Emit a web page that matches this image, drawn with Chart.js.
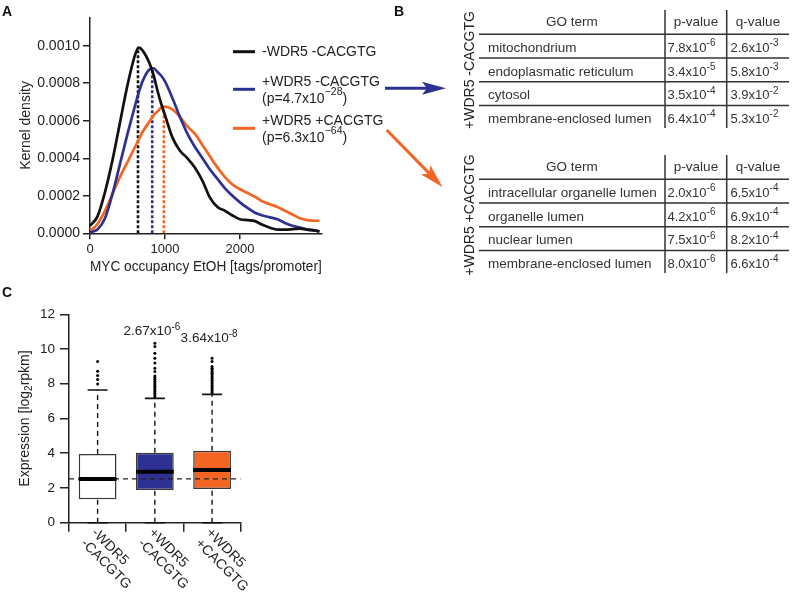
<!DOCTYPE html>
<html>
<head>
<meta charset="utf-8">
<script src="https://cdn.jsdelivr.net/npm/chart.js@4.4.0/dist/chart.umd.min.js"></script>
<style>
  html, body { margin: 0; padding: 0; background: #fff; }
  #page { position: relative; width: 793px; height: 595px; overflow: hidden; }
  #densityChart { position: absolute; left: 0; top: 0; }
  #exprChart { position: absolute; left: 0; top: 280px; }
  #overlay { position: absolute; left: 0; top: 0; pointer-events: none; }
</style>
</head>
<body>
<div id="page">
  <canvas id="densityChart" width="400" height="290"></canvas>
  <canvas id="exprChart" width="400" height="315"></canvas>
  <svg id="overlay" width="793" height="595"></svg>
</div>
<script>
const FONT = "'Liberation Sans', Arial, sans-serif";
Chart.defaults.font.family = FONT;
Chart.defaults.color = '#222';
Chart.defaults.animation = false;

// ---- panel A: kernel density of MYC occupancy
const occupancy = [0, 100, 200, 300, 400, 500, 600, 650, 700, 800, 850, 900, 950, 1000,
  1100, 1200, 1300, 1400, 1500, 1600, 1700, 1800, 1900, 2000,
  2100, 2200, 2300, 2400, 2500, 2600, 2700, 2800, 2900, 3000, 3060];
const densityNoWdr5 = [0.00004, 0.00009, 0.00022, 0.00039, 0.00059, 0.00079, 0.00095, 0.00099, 0.000975, 0.00090, 0.00084, 0.00076, 0.00069, 0.00063,
  0.00051, 0.00044, 0.00040, 0.00035, 0.00028, 0.00019, 0.00014, 0.00012, 0.000095, 0.000075,
  0.00007, 0.000065, 0.000045, 0.00003, 0.00002, 0.00002, 0.000022, 0.000025, 0.00002, 0.000015, 0.00001];
const densityWdr5NoEbox = [0.000005, 0.00002, 0.00008, 0.00021, 0.00037, 0.00053, 0.00068, 0.00075, 0.00081, 0.000875, 0.00088, 0.00086, 0.00084, 0.00081,
  0.00072, 0.00062, 0.00053, 0.00046, 0.00040, 0.00034, 0.00029, 0.00024, 0.00020, 0.000165,
  0.000135, 0.00011, 0.000095, 0.000085, 0.000075, 0.000055, 0.00004, 0.00003, 0.00002, 0.000015, 0.00001];
const densityWdr5Ebox = [0.00001, 0.00005, 0.00012, 0.00021, 0.00030, 0.00038, 0.00046, 0.00050, 0.00054, 0.00060, 0.00063, 0.00065, 0.00067, 0.000675,
  0.00066, 0.00062, 0.00057, 0.00053, 0.00047, 0.00041, 0.00035, 0.00030, 0.00026, 0.000235,
  0.000215, 0.000195, 0.00017, 0.000155, 0.00014, 0.00012, 0.0001, 0.00008, 0.00007, 0.000067, 0.000067];
const modeX = [640, 830, 985];
const modeY = [0.00099, 0.000875, 0.00067];
const occupancyTicks = [0, 1000, 2000];
const densityTicks = [0, 0.0002, 0.0004, 0.0006, 0.0008, 0.0010];
const seriesNames = ['-WDR5 -CACGTG', '+WDR5 -CACGTG', '+WDR5 +CACGTG'];
const seriesPValue = [null, ['4.7x10', '\u221228'], ['6.3x10', '\u221264']];
const seriesColors = ['#111111', '#2e3192', '#f26522'];

// ---- panel B: GO terms
const goTermsNoEbox = ['mitochondrium', 'endoplasmatic reticulum', 'cytosol', 'membrane-enclosed lumen'];
const pMantNoEbox = [7.8, 3.4, 3.5, 6.4];
const pExpNoEbox = [-6, -5, -4, -4];
const qMantNoEbox = [2.6, 5.8, 3.9, 5.3];
const qExpNoEbox = [-3, -3, -2, -2];
const goTermsEbox = ['intracellular organelle lumen', 'organelle lumen', 'nuclear lumen', 'membrane-enclosed lumen'];
const pMantEbox = [2.0, 4.2, 7.5, 8.0];
const pExpEbox = [-6, -6, -6, -6];
const qMantEbox = [6.5, 6.9, 8.2, 6.6];
const qExpEbox = [-4, -4, -4, -4];

// ---- panel C: expression box plots
const groups = [['-WDR5', '-CACGTG'], ['+WDR5', '-CACGTG'], ['+WDR5', '+CACGTG']];
const q1 = [1.35, 1.88, 1.94];
const q3 = [3.95, 4.03, 4.15];
const medians = [2.52, 2.94, 3.03];
const whiskerLow = [0, 0, 0];
const whiskerHigh = [7.64, 7.16, 7.39];
const outliers = [
  [7.99, 8.24, 8.47, 8.72, 9.28],
  [7.25, 7.35, 7.45, 7.55, 7.65, 7.75, 7.85, 7.95, 8.05, 8.15, 8.25, 8.35, 8.45, 8.7, 8.9, 9.19, 9.47, 9.76, 10.15, 10.34],
  [7.5, 7.6, 7.7, 7.8, 7.9, 8.0, 8.1, 8.2, 8.3, 8.4, 8.5, 8.6, 8.7, 8.8, 8.9, 8.99, 9.28, 9.47]
];
const pBase = ['', '2.67x10', '3.64x10'];
const pExp = ['', '-6', '-8'];
const boxColors = ['#ffffff', '#2e3192', '#f26522'];
const expressionTicks = [0, 2, 4, 6, 8, 10, 12];

// text with super/subscripts on a canvas; parts = [text, shift] with shift 1 sup, -1 sub
function drawParts(ctx, parts, x, y, size, small, raise, align) {
  let total = 0;
  parts.forEach(([t, s]) => { ctx.font = (s ? small : size) + 'px ' + FONT; total += ctx.measureText(t).width; });
  let cx = align === 'center' ? x - total / 2 : x;
  ctx.textAlign = 'left';
  parts.forEach(([t, s]) => {
    ctx.font = (s ? small : size) + 'px ' + FONT;
    ctx.fillText(t, cx, y - s * raise);
    cx += ctx.measureText(t).width;
  });
}

const densityLegend = {
  id: 'densityLegend',
  afterDraw(chart) {
    const ctx = chart.ctx;
    const lineY = [51.7, 89.3, 128.3];
    ctx.save();
    ctx.textBaseline = 'middle';
    seriesNames.forEach((name, i) => {
      ctx.strokeStyle = seriesColors[i];
      ctx.lineWidth = 3;
      ctx.beginPath();
      ctx.moveTo(233, lineY[i]);
      ctx.lineTo(255, lineY[i]);
      ctx.stroke();
      ctx.fillStyle = '#222';
      const p = seriesPValue[i];
      drawParts(ctx, [[name, 0]], 262, p ? lineY[i] - 7.5 : lineY[i], 14, 10, 0, 'left');
      if (p) drawParts(ctx, [['(p=' + p[0], 0], [p[1], 1], [')', 0]], 262, lineY[i] + 10, 14, 10.5, 7, 'left');
    });
    ctx.restore();
  }
};

new Chart(document.getElementById('densityChart'), {
  type: 'line',
  data: {
    datasets: [
      ...[densityNoWdr5, densityWdr5NoEbox, densityWdr5Ebox].map((ys, i) => ({
        label: seriesNames[i],
        data: occupancy.map((x, j) => ({ x: x, y: ys[j] })),
        borderColor: seriesColors[i],
        borderWidth: 2.7,
        pointRadius: 0,
        cubicInterpolationMode: 'monotone',
        fill: false
      })),
      ...modeX.map((x, i) => ({
        data: [{ x: x, y: 0 }, { x: x, y: modeY[i] }],
        borderColor: seriesColors[i],
        borderWidth: 2.6,
        borderDash: [3, 2],
        pointRadius: 0
      }))
    ]
  },
  options: {
    responsive: false,
    layout: { padding: { left: 0, top: 17.6, right: 78.3, bottom: 0 } },
    plugins: { legend: { display: false }, tooltip: { enabled: false } },
    scales: {
      x: {
        type: 'linear', min: 0, max: 3090,
        afterBuildTicks: s => { s.ticks = occupancyTicks.map(v => ({ value: v })); },
        afterFit: s => { s.height = 290 - 233.3; },
        grid: { drawOnChartArea: false, tickLength: 6, color: '#222', lineWidth: 1.5 },
        border: { color: '#222', width: 1.5 },
        ticks: { font: { size: 13 }, padding: 2, maxRotation: 0, callback: v => String(v) },
        title: { display: true, text: 'MYC occupancy EtOH [tags/promoter]', font: { size: 14 }, padding: { top: 0, bottom: 14 } }
      },
      y: {
        min: 0, max: 0.00115,
        afterBuildTicks: s => { s.ticks = densityTicks.map(v => ({ value: v })); },
        afterFit: s => { s.width = 90; },
        grid: { drawOnChartArea: false, tickLength: 7, color: '#222', lineWidth: 1.5 },
        border: { color: '#222', width: 1.5 },
        ticks: { font: { size: 14 }, padding: 3, callback: v => v.toFixed(4) },
        title: { display: true, text: 'Kernel density', font: { size: 14 }, padding: { top: 18, bottom: 0 } }
      }
    }
  },
  plugins: [densityLegend]
});

// line pieces separated by gaps
function segments(list) {
  const out = [];
  list.forEach(([a, b]) => {
    out.push({ x: a[0], y: a[1] }, { x: b[0], y: b[1] }, { x: b[0], y: null });
  });
  return out;
}

const boxHalf = 0.33;
const capHalf = 0.175;
const lastEdge = groups.length - 0.5;

const exprDecor = {
  id: 'exprDecor',
  afterDraw(chart) {
    const { ctx, chartArea } = chart;
    const x = chart.scales.x, y = chart.scales.y;
    ctx.save();
    ctx.fillStyle = '#222';
    ctx.textBaseline = 'top';
    groups.forEach((lines, i) => {
      const px = x.getPixelForValue(i);
      ctx.save();
      ctx.translate(px + 1, chartArea.bottom + 3);
      ctx.rotate(Math.PI / 4);
      ctx.font = '14px ' + FONT;
      ctx.textAlign = 'left';
      lines.forEach((t, k) => ctx.fillText(t, 0, k * 15));
      ctx.restore();
    });
    ctx.textBaseline = 'alphabetic';
    const pLevel = [0, 10.8, 10.42];
    pBase.forEach((b, i) => {
      if (!b) return;
      drawParts(ctx, [[b, 0], [pExp[i], 1]], x.getPixelForValue(i) - 3, y.getPixelForValue(pLevel[i]), 13.5, 10, 5, 'center');
    });
    ctx.save();
    ctx.translate(25, (chartArea.top + chartArea.bottom) / 2);
    ctx.rotate(-Math.PI / 2);
    ctx.textBaseline = 'middle';
    drawParts(ctx, [['Expression [log', 0], ['2', -1], ['rpkm]', 0]], 0, 0, 14, 10, 4, 'center');
    ctx.restore();
    ctx.restore();
  }
};

new Chart(document.getElementById('exprChart'), {
  type: 'bar',
  data: {
    datasets: [
      {
        type: 'line',
        data: segments(medians.map((m, i) => [[i - boxHalf, m], [i + boxHalf, m]])),
        borderColor: '#000', borderWidth: 4, pointRadius: 0, spanGaps: false
      },
      {
        type: 'line',
        data: [{ x: -0.5, y: medians[0] }, { x: lastEdge, y: medians[0] }],
        borderColor: '#222', borderWidth: 1.2, borderDash: [5, 4], pointRadius: 0
      },
      {
        type: 'line',
        data: segments([
          ...whiskerHigh.map((w, i) => [[i - capHalf, w], [i + capHalf, w]]),
          ...whiskerLow.map((w, i) => [[i - capHalf, w], [i + capHalf, w]])
        ]),
        borderColor: '#111', borderWidth: 1.6, pointRadius: 0, spanGaps: false, clip: 4
      },
      {
        type: 'line',
        data: segments([
          ...whiskerHigh.map((w, i) => [[i, q3[i]], [i, w]]),
          ...whiskerLow.map((w, i) => [[i, w], [i, q1[i]]])
        ]),
        borderColor: '#111', borderWidth: 1.4, borderDash: [5, 4], pointRadius: 0, spanGaps: false
      },
      {
        type: 'scatter',
        data: outliers.flatMap((o, i) => o.map(v => ({ x: i, y: v }))),
        pointRadius: 1.5, backgroundColor: '#000', borderWidth: 0
      },
      {
        type: 'bar',
        data: q1.map((v, i) => ({ x: i, y: [v, q3[i]] })),
        backgroundColor: boxColors, borderColor: '#3a3a3a', borderWidth: 1.5,
        borderSkipped: false, barPercentage: 0.66, categoryPercentage: 1
      }
    ]
  },
  options: {
    responsive: false,
    layout: { padding: { left: 0, top: 34.3, right: 159.3, bottom: 0 } },
    plugins: { legend: { display: false }, tooltip: { enabled: false } },
    scales: {
      x: {
        type: 'linear', min: -0.5, max: lastEdge, offset: false,
        afterBuildTicks: s => { s.ticks = groups.concat([null]).map((g, i) => ({ value: i - 0.5 })); },
        afterFit: s => { s.height = 315 - 242.7; },
        grid: { offset: false, drawOnChartArea: false, tickLength: 9, color: '#222', lineWidth: 1.5 },
        border: { color: '#222', width: 1.5 },
        ticks: { display: false }
      },
      y: {
        min: 0, max: 12,
        afterBuildTicks: s => { s.ticks = expressionTicks.map(v => ({ value: v })); },
        afterFit: s => { s.width = 69; },
        grid: { drawOnChartArea: false, tickLength: 9, color: '#222', lineWidth: 1.5 },
        border: { color: '#222', width: 1.5 },
        ticks: { font: { size: 13.5 }, padding: 5 }
      }
    }
  },
  plugins: [exprDecor]
});

// ---- panel B tables, arrows and panel letters as SVG
function sup(mant, exp) {
  return mant.toFixed(1) + 'x10<tspan dy="-5" font-size="10">' + exp + '</tspan>';
}
function arrow(x1, y1, x2, y2, color) {
  const len = Math.hypot(x2 - x1, y2 - y1);
  const ux = (x2 - x1) / len, uy = (y2 - y1) / len;
  const L = 24, W = 6.5, N = 5;
  const bx = x2 - ux * L, by = y2 - uy * L;
  const nx = x2 - ux * (L - N), ny = y2 - uy * (L - N);
  return '<line x1="' + x1 + '" y1="' + y1 + '" x2="' + nx + '" y2="' + ny + '" stroke="' + color + '" stroke-width="3"/>' +
    '<polygon fill="' + color + '" points="' + x2 + ',' + y2 + ' ' + (bx - uy * W) + ',' + (by + ux * W) + ' ' +
    nx + ',' + ny + ' ' + (bx + uy * W) + ',' + (by - ux * W) + '"/>';
}
const tables = [
  { side: '+WDR5 -CACGTG', terms: goTermsNoEbox, pm: pMantNoEbox, pe: pExpNoEbox, qm: qMantNoEbox, qe: qExpNoEbox },
  { side: '+WDR5 +CACGTG', terms: goTermsEbox, pm: pMantEbox, pe: pExpEbox, qm: qMantEbox, qe: qExpEbox }
];
let svg = '<g font-family="Liberation Sans, Arial, sans-serif" fill="#222">';
tables.forEach((t, ti) => {
  const off = ti * 145;
  const head = 34.3 + off, rowH = 23.7;
  svg += '<g stroke="#333" stroke-width="1.5">';
  [665, 726.7].forEach(vx => { svg += '<line x1="' + vx + '" y1="' + (10 + off) + '" x2="' + vx + '" y2="' + (128 + off) + '"/>'; });
  for (let k = 0; k < 4; k++) svg += '<line x1="479" y1="' + (head + k * rowH) + '" x2="789" y2="' + (head + k * rowH) + '"/>';
  svg += '</g><g font-size="13.5" fill="#333">';
  [['GO term', 572], ['p-value', 696], ['q-value', 758]].forEach(([h, hx]) => {
    svg += '<text x="' + hx + '" y="' + (21.7 + off) + '" text-anchor="middle" dominant-baseline="central">' + h + '</text>';
  });
  t.terms.forEach((term, k) => {
    const ry = head + (k + 0.55) * rowH;
    svg += '<text x="488" y="' + ry + '" dominant-baseline="central">' + term + '</text>';
    svg += '<text x="667.5" y="' + ry + '" font-size="13" dominant-baseline="central">' + sup(t.pm[k], t.pe[k]) + '</text>';
    svg += '<text x="730.5" y="' + ry + '" font-size="13" dominant-baseline="central">' + sup(t.qm[k], t.qe[k]) + '</text>';
  });
  svg += '</g>';
  svg += '<text font-size="14" text-anchor="middle" dominant-baseline="central" transform="translate(469.3,' + (70 + off) + ') rotate(-90)">' + t.side + '</text>';
});
svg += arrow(385, 88.3, 446, 88.3, '#2e3192');
svg += arrow(386.7, 130, 442.5, 187, '#f26522');
svg += '<g font-size="14" font-weight="bold" fill="#111">' +
  '<text x="2" y="15.5">A</text><text x="394" y="15.5">B</text><text x="2" y="297">C</text></g>';
svg += '</g>';
document.getElementById('overlay').innerHTML = svg;
</script>
</body>
</html>
